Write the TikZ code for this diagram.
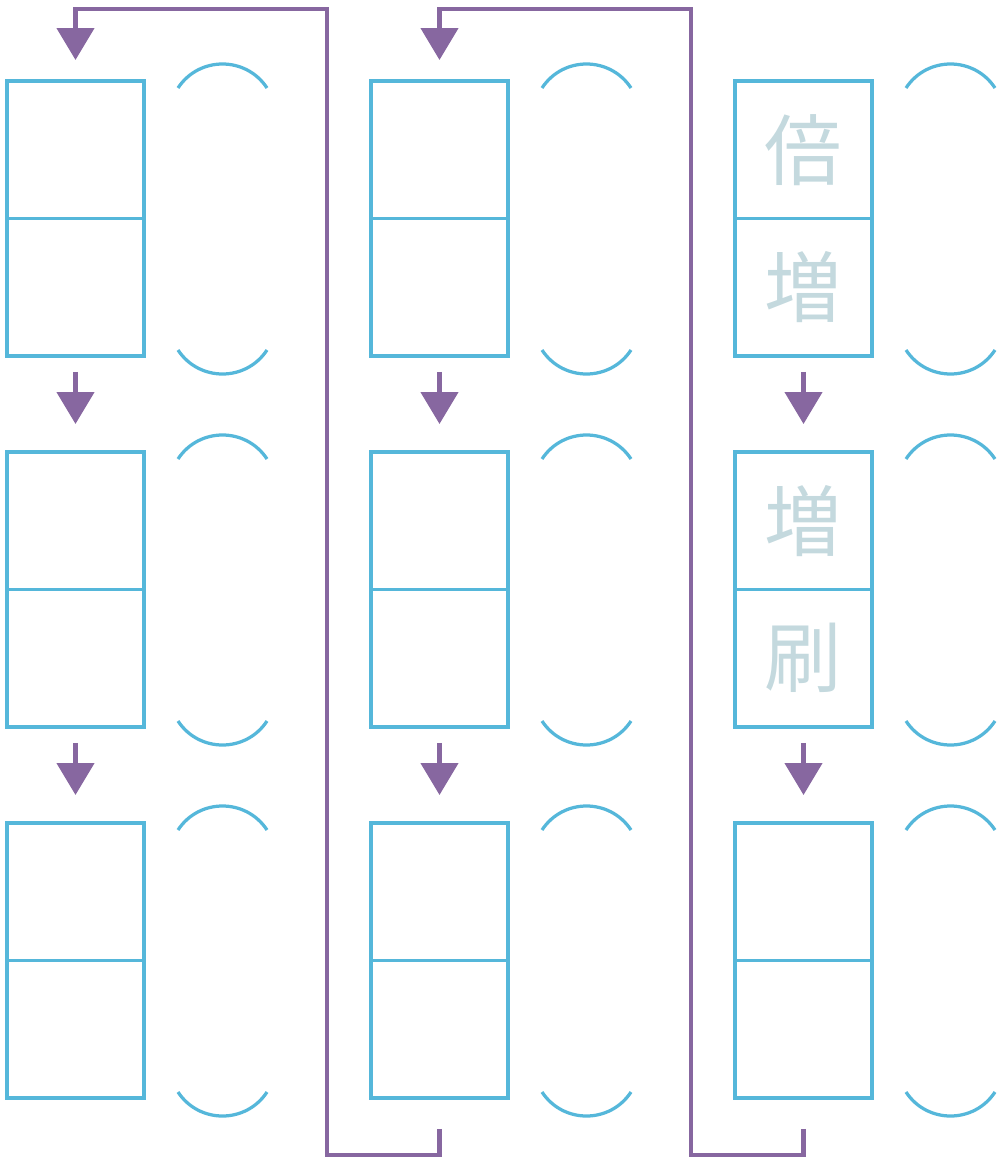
\documentclass[tikz,border=0pt]{standalone}
\usepackage{fontspec}
\usetikzlibrary{arrows.meta,positioning}
\newfontfamily\jpfont{Noto Sans CJK JP}
\definecolor{boxblue}{HTML}{55B7DA}
\definecolor{purple}{HTML}{8767A0}
\definecolor{graytext}{HTML}{C4D9DE}

\begin{document}
\begin{tikzpicture}[x=.02cm,y=-.02cm,
  cell/.style={draw=boxblue,line width=.065cm,minimum width=2.74cm,minimum height=2.75cm,inner sep=0,outer sep=0},
  kanji/.style={text=graytext,font=\jpfont\fontsize{44}{44}\selectfont,inner sep=0},
  arr/.style={purple,line width=.09cm,-{Triangle[width=.74cm,length=.64cm]}},
  paren/.style={boxblue,line width=.065cm}]
\useasboundingbox (0,0) rectangle (1004,1159);
% cells and brackets
\foreach \c in {1,2,3}\foreach \r in {1,2,3}{
  \pgfmathsetmacro\cx{75.5+364*(\c-1)}
  \pgfmathsetmacro\ty{81+371*(\r-1)}
  \pgfmathsetmacro\lx{178+364*(\c-1)}
  \node[cell] (top\c\r) at (\cx,\ty+68.75) {};
  \node[cell] (bot\c\r) at (\cx,\ty+206.25) {};
  \draw[paren] (\lx,\ty+7) .. controls (\lx+21,\ty-25) and (\lx+68,\ty-25) .. (\lx+89,\ty+7);
  \draw[paren] (\lx,\ty+269) .. controls (\lx+21,\ty+301) and (\lx+68,\ty+301) .. (\lx+89,\ty+269);
}
\node[kanji] at (top31) {倍};
\node[kanji] at (bot31) {増};
\node[kanji] at (top32) {増};
\node[kanji] at (bot32) {刷};
% arrows down each column
\foreach \c in {1,2,3}\foreach \r in {1,2}{
  \pgfmathtruncatemacro\nx{\r+1}
  \draw[arr] ([yshift=-.32cm]bot\c\r.south) -- ([yshift=.56cm]top\c\nx.north);
}
% back to the top of the next column
\draw[arr] ([yshift=-.62cm]bot23.south) -- ++(0,26) -| (327,9) -| ([yshift=.42cm]top11.north);
\draw[arr] ([yshift=-.62cm]bot33.south) -- ++(0,26) -| (691,9) -| ([yshift=.42cm]top21.north);
\end{tikzpicture}
\end{document}
